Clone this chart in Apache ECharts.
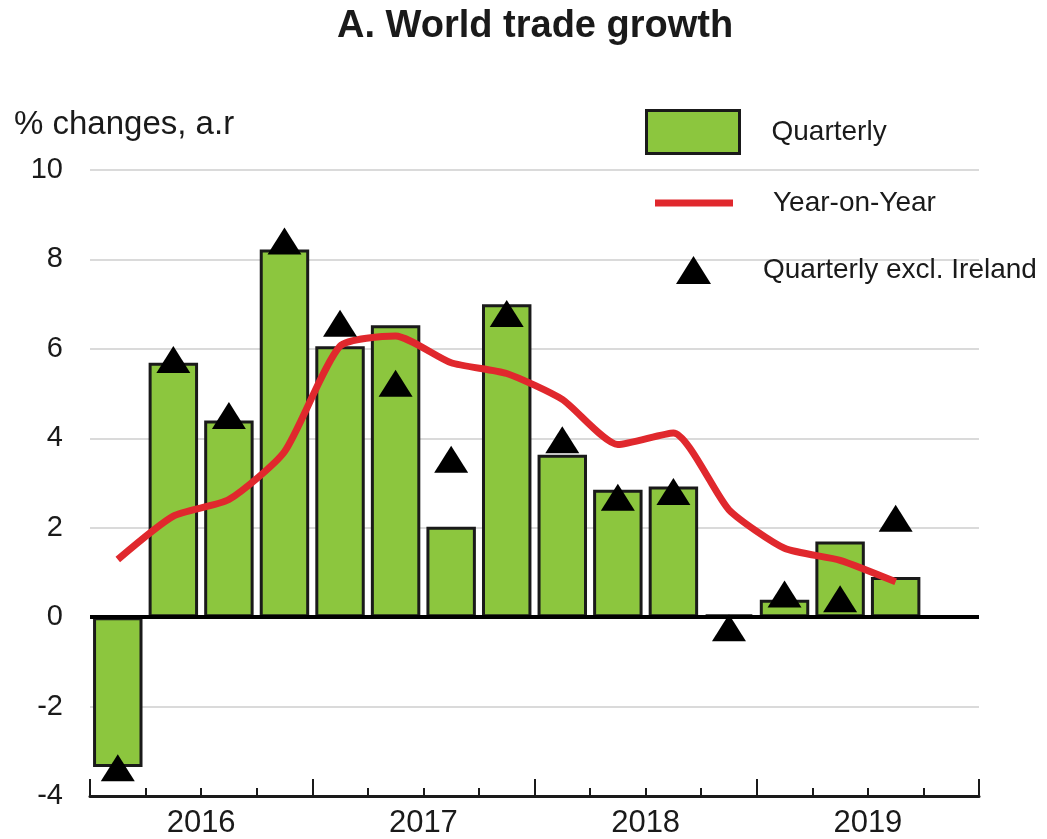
<!DOCTYPE html>
<html>
<head>
<meta charset="utf-8">
<script src="https://cdn.jsdelivr.net/npm/echarts@6/dist/echarts.min.js"></script>
<style>
  html, body { margin: 0; padding: 0; background: #fff; }
  #main { width: 1047px; height: 839px; }
</style>
</head>
<body>
<div id="main"></div>
<script>
// quarters, last slot of 2019 left empty
var quarters = ['2016Q1', '2016Q2', '2016Q3', '2016Q4',
                '2017Q1', '2017Q2', '2017Q3', '2017Q4',
                '2018Q1', '2018Q2', '2018Q3', '2018Q4',
                '2019Q1', '2019Q2', '2019Q3', '2019Q4'];
var years = ['2016', '2017', '2018', '2019'];

var quarterly = [-3.35, 5.69, 4.40, 8.22, 6.06, 6.53, 2.02, 7.00, 3.63, 2.85, 2.92, 0.06, 0.39, 1.69, 0.90];
var yearOnYear = [1.29, 2.26, 2.63, 3.70, 6.06, 6.29, 5.69, 5.45, 4.87, 3.86, 4.12, 2.40, 1.54, 1.27, 0.79];
var exclIreland = [-3.37, 5.76, 4.51, 8.41, 6.57, 5.23, 3.53, 6.79, 3.97, 2.68, 2.81, -0.24, 0.52, 0.41, 2.21];

var yTicks = { min: -4, max: 10, step: 2 };

var FONT = 'Liberation Sans';
var GREEN = '#8cc63e';
var RED = '#e0282d';
var INK = '#1a1a1a';

var myChart = echarts.init(document.getElementById('main'));

var option = {
    animation: false,
    textStyle: { fontFamily: FONT },
    title: [{
        text: 'A. World trade growth',
        left: 332,
        top: 3,
        textStyle: { fontFamily: FONT, fontSize: 38, fontWeight: 'bold', color: INK }
    }, {
        text: '% changes, a.r',
        left: 9,
        top: 103,
        textStyle: { fontFamily: FONT, fontSize: 33, fontWeight: 'normal', color: INK }
    }],
    legend: [{
        data: ['Quarterly'],
        left: 640,
        top: 104,
        icon: 'rect',
        itemWidth: 93,
        itemHeight: 43,
        itemStyle: { borderColor: INK, borderWidth: 3 },
        textStyle: { fontFamily: FONT, fontSize: 28, color: INK, lineHeight: 30, padding: [0, 0, 0, 27] }
    }, {
        data: [{ name: 'Year-on-Year', icon: 'rect' }],
        left: 650,
        top: 183,
        itemWidth: 78,
        itemHeight: 7,
        textStyle: { fontFamily: FONT, fontSize: 28, color: INK, lineHeight: 30, padding: [0, 0, 0, 35] }
    }, {
        data: [{ name: 'Quarterly excl. Ireland', icon: 'triangle' }],
        left: 671,
        top: 250,
        itemWidth: 35,
        itemHeight: 28,
        itemStyle: { opacity: 1 },
        textStyle: { fontFamily: FONT, fontSize: 28, color: INK, lineHeight: 30, padding: [0, 0, 0, 47] }
    }],
    grid: {
        left: 90,
        right: 68,
        top: 170,
        bottom: 42
    },
    xAxis: [{
        type: 'category',
        data: quarters,
        position: 'bottom',
        boundaryGap: true,
        axisLine: { show: true, onZero: false, lineStyle: { color: INK, width: 3 } },
        axisTick: { show: true, inside: true, interval: 0, length: 8, lineStyle: { color: INK, width: 2 } },
        axisLabel: { show: false },
        splitLine: { show: false },
        z: 5
    }, {
        type: 'category',
        data: years,
        position: 'bottom',
        boundaryGap: true,
        axisLine: { show: false, onZero: false },
        axisTick: { show: true, inside: true, interval: 0, length: 17, lineStyle: { color: INK, width: 2 } },
        axisLabel: { fontFamily: FONT, fontSize: 31, color: INK, margin: 12 },
        splitLine: { show: false },
        z: 5
    }],
    yAxis: {
        type: 'value',
        min: yTicks.min,
        max: yTicks.max,
        interval: yTicks.step,
        axisLine: { show: false },
        axisTick: { show: false },
        axisLabel: { fontFamily: FONT, fontSize: 29, color: INK, margin: 27 },
        splitLine: { lineStyle: { color: '#dadada', width: 2 } }
    },
    series: [{
        name: 'Quarterly',
        type: 'bar',
        data: quarterly,
        barWidth: '89%',
        itemStyle: { color: GREEN, borderColor: INK, borderWidth: 3 },
        markLine: {
            silent: true,
            symbol: 'none',
            label: { show: false },
            lineStyle: { color: '#000', width: 4, type: 'solid' },
            data: [{ yAxis: 0 }]
        },
        z: 2
    }, {
        name: 'Year-on-Year',
        type: 'line',
        data: yearOnYear,
        smooth: 0.2,
        showSymbol: false,
        symbol: 'none',
        itemStyle: { color: RED },
        lineStyle: { color: RED, width: 7 },
        z: 3
    }, {
        name: 'Quarterly excl. Ireland',
        type: 'scatter',
        data: exclIreland,
        symbol: 'triangle',
        symbolSize: [34, 27],
        itemStyle: { color: '#000', opacity: 1 },
        z: 4
    }]
};

myChart.setOption(option);
</script>
</body>
</html>
